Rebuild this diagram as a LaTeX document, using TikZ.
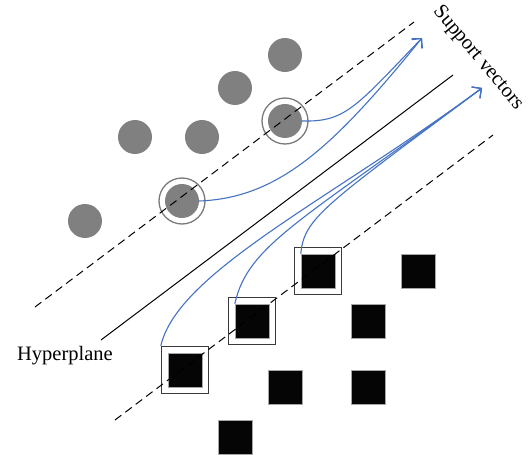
\documentclass[tikz,border=0pt]{standalone}
\usepackage{fontspec}
\setmainfont{Liberation Serif}
\usetikzlibrary{arrows.meta}
\definecolor{dotgray}{HTML}{808080}
\definecolor{ringgray}{HTML}{7A7A7A}
\definecolor{framegray}{HTML}{3A3A3A}
\definecolor{sqblack}{HTML}{050505}
\definecolor{svblue}{HTML}{4472C4}
\begin{document}
\begin{tikzpicture}[x=1pt,y=-1pt,
  dot/.style={circle,fill=dotgray,minimum size=34pt,inner sep=0pt},
  ring/.style={circle,draw=ringgray,line width=1.3pt,minimum size=46pt,inner sep=0pt},
  sq/.style={rectangle,fill=sqblack,draw=gray!70,line width=0.4pt,minimum size=34pt,inner sep=0pt},
  frame/.style={rectangle,draw=framegray,line width=1.4pt,minimum size=47pt,inner sep=0pt},
  margin/.style={draw=black,line width=1pt,dash pattern=on 8pt off 5pt},
  hyper/.style={draw=black,line width=1pt},
  sv/.style={draw=svblue,line width=1.1pt,-{Straight Barb[length=7pt,width=14pt,line width=1.1pt]}},
  lbl/.style={font=\fontsize{20.5}{24}\selectfont,inner sep=0pt}]
\useasboundingbox (0,0) rectangle (531,455);
% lines
\coordinate (ua) at (35,307);
\coordinate (ub) at (414,22);
\coordinate (ha) at (101,340);
\coordinate (hb) at (453,75);
\coordinate (la) at (115,420);
\coordinate (lb) at (493,135);
% circles
\node[dot] (c1) at (285,55) {};
\node[dot] (c2) at (235,88) {};
\node[dot] (c3) at (135,137) {};
\node[dot] (c4) at (202,137) {};
\node[dot] (c5) at (285,121) {};
\node[dot] (c6) at (182,201) {};
\node[dot] (c7) at (85,221) {};
\node[ring] (r5) at (c5) {};
\node[ring] (r6) at (c6) {};
% squares
\node[sq] (s1) at (318,271) {};
\node[sq] (s2) at (418,271) {};
\node[sq] (s3) at (252,321) {};
\node[sq] (s4) at (368,321) {};
\node[sq] (s5) at (285,387) {};
\node[sq] (s6) at (368,387) {};
\node[sq] (s7) at (235,437) {};
\node[sq] (s8) at (185,370) {};
\node[frame] (f1) at (s1) {};
\node[frame] (f3) at (s3) {};
\node[frame] (f8) at (s8) {};
% lines drawn
\draw[margin] (ua) -- (ub);
\draw[hyper] (ha) -- (hb);
\draw[margin] (la) -- (lb);
% arrow tips
\coordinate (ta) at (422,38);
\coordinate (tb) at (482,88);
% support vector arrows
\draw[sv] (c5.east) .. controls (345,122) and (355,108) .. (ta);
\draw[sv] (c6.east) .. controls (280,198) and (335,145) .. (ta);
\draw[sv] (f8.north west) .. controls (178,272) and (330,200) .. (tb);
\draw[sv] (s3.north west) .. controls (248,245) and (300,222) .. (tb);
\draw[sv] (s1.north west) .. controls (304,218) and (325,205) .. (tb);
% labels
\node[lbl,anchor=base] (hyp) at (65,360) {Hyperplane};
\node[lbl,rotate=-50] (svl) at (478,58) {Support vectors};
\end{tikzpicture}
\end{document}
